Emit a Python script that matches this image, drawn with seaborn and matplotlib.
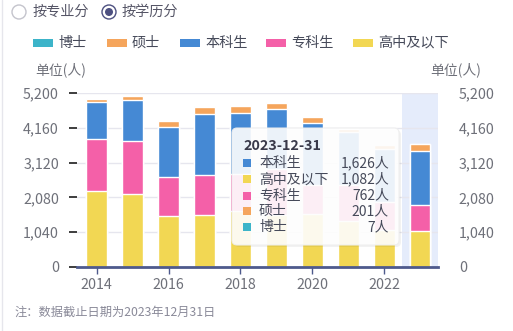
import matplotlib
matplotlib.use("Agg")
import matplotlib.pyplot as plt
import seaborn as sns
import pandas as pd
from matplotlib.patches import Rectangle, FancyBboxPatch, Circle
from matplotlib.transforms import IdentityTransform
from matplotlib.lines import Line2D

# ---- data ----
years = [2014, 2015, 2016, 2017, 2018, 2019, 2020, 2021, 2022, 2023]
doctor = [5, 5, 6, 6, 6, 7, 6, 6, 6, 7]
master = [98, 120, 179, 227, 227, 188, 168, 110, 129, 201]
bachelor = [1095, 1204, 1491, 1802, 1802, 1784, 1843, 1563, 1583, 1626]
college = [1560, 1590, 1173, 1222, 1133, 1378, 876, 1076, 828, 762]
highschool = [2267, 2187, 1530, 1540, 1659, 1560, 1584, 1384, 1115, 1082]

series_names = ["博士", "硕士", "本科生", "专科生", "高中及以下"]
series_colors = ["#3cb4c9", "#f5a55c", "#4589d4", "#f460a8", "#f2d753"]
yticks = [0, 1040, 2080, 3120, 4160, 5200]
xtick_years = [2014, 2016, 2018, 2020, 2022]
tooltip_title = "2023-12-31"
tooltip_rows = [("本科生", "1,626人", "#4589d4"), ("高中及以下", "1,082人", "#f2d753"),
                ("专科生", "762人", "#f460a8"), ("硕士", "201人", "#f5a55c"),
                ("博士", "7人", "#3cb4c9")]

sns.set_theme(style="white")
plt.rcParams['font.family'] = ['Noto Sans CJK SC', 'DejaVu Sans']

W, H = 513, 331
fig = plt.figure(figsize=(W / 100, H / 100), dpi=100)
ax = fig.add_axes([77 / W, 1 - 267 / H, (438 - 77) / W, (267 - 93) / H])

df = pd.DataFrame({"year": [str(y) for y in years], "highschool": highschool,
                   "college": college, "bachelor": bachelor, "master": master,
                   "doctor": doctor})
# stacked via cumulative sums, bottom layer = highschool
stack_cols = ["highschool", "college", "bachelor", "master", "doctor"]
stack_colors = ["#f2d753", "#f460a8", "#4589d4", "#f5a55c", "#3cb4c9"]
cum = df[stack_cols].cumsum(axis=1)
order = [str(y) for y in years]

ax.axvspan(8.5, 9.5, color="#e5ecfb", zorder=0, lw=0)
for col, colr in reversed(list(zip(stack_cols, stack_colors))):
    tmp = pd.DataFrame({"year": df["year"], "v": cum[col]})
    sns.barplot(data=tmp, x="year", y="v", order=order, color=colr,
                width=0.58, errorbar=None, edgecolor="white", linewidth=1,
                saturation=1, ax=ax, zorder=2)

ax.set_xlim(-0.55, 9.5)
ax.set_ylim(0, 5200)
ax.set_yticks(yticks)
ax.set_yticklabels([f"{v:,}" for v in yticks])
ax.yaxis.grid(True, color="#e6e6ee", lw=1, zorder=1)
ax.set_axisbelow(True)
ax.set_xticks([years.index(y) for y in xtick_years])
ax.set_xticklabels([str(y) for y in xtick_years])
ax.set_xlabel("")
ax.set_ylabel("")
for s in ["top", "right", "left"]:
    ax.spines[s].set_visible(False)
ax.spines["bottom"].set_color("#4e5a8c")
ax.spines["bottom"].set_linewidth(2)
ax.tick_params(axis="x", bottom=True, length=5, width=1, color="#4e5a8c",
               labelsize=10.3, labelcolor="#6e7079", pad=3)
ax.tick_params(axis="y", left=False, labelsize=10.3, labelcolor="#6e7079", pad=7)

ax2 = ax.twinx()
ax2.set_ylim(0, 5200)
ax2.set_yticks(yticks)
ax2.set_yticklabels([f"{v:,}" for v in yticks])
for s in ["top", "right", "left", "bottom"]:
    ax2.spines[s].set_visible(False)
ax2.tick_params(axis="y", right=False, labelsize=10.3, labelcolor="#6e7079", pad=9)
ax2.grid(False)

def fx(x):
    return x / W

def fy(y):
    return 1 - y / H

idt = IdentityTransform()

# left border line
fig.add_artist(Line2D([fx(1.5), fx(1.5)], [0, 1], color="#e6e6ec", lw=1))

# radio buttons
fig.add_artist(Circle((19, H - 12), 7, transform=idt, facecolor="white",
                      edgecolor="#c4c4cc", lw=1))
fig.text(fx(33), fy(12), "按专业分", fontsize=10.2, color="#555566", va="center")
fig.add_artist(Circle((109, H - 12), 7, transform=idt, facecolor="white",
                      edgecolor="#4d5080", lw=1))
fig.add_artist(Circle((109, H - 12), 4, transform=idt, facecolor="#4d5080",
                      edgecolor="none"))
fig.text(fx(122), fy(12), "按学历分", fontsize=10.2, color="#555566", va="center")

# legend
leg_x = [33, 107, 180, 266, 353]
for x0, name, colr in zip(leg_x, series_names, series_colors):
    fig.add_artist(Rectangle((x0, H - 46.5), 20, 8, transform=idt,
                             facecolor=colr, edgecolor="none"))
    fig.text(fx(x0 + 25), fy(42.5), name, fontsize=10.2, color="#464a5a",
             va="center")

# unit labels
fig.text(fx(35), fy(70), "单位(人)", fontsize=10, color="#6e7079", va="center")
fig.text(fx(430), fy(70), "单位(人)", fontsize=10, color="#6e7079", va="center")

# footnote
fig.text(fx(14), fy(312), "注：数据截止日期为2023年12月31日", fontsize=8.8,
         color="#8a8a99", va="center")

# tooltip
fig.add_artist(FancyBboxPatch((234, H - 247), 167, 117, transform=idt,
                              boxstyle="round,pad=0,rounding_size=5",
                              facecolor="#000000", alpha=0.05, edgecolor="none"))
fig.add_artist(FancyBboxPatch((232, H - 245), 167, 117, transform=idt,
                              boxstyle="round,pad=0,rounding_size=5",
                              facecolor="white", alpha=0.9,
                              edgecolor="#eeeeee", lw=0.8))
fig.text(fx(243), fy(146.5), tooltip_title, fontsize=10.3, fontweight="bold",
         color="#3a3a4a", va="center")
row_y = [163.3, 179.3, 195.5, 211, 227]
for yy, (lab, val, colr) in zip(row_y, tooltip_rows):
    fig.add_artist(Rectangle((243, H - yy - 4), 8, 8, transform=idt,
                             facecolor=colr, edgecolor="none"))
    fig.text(fx(259), fy(yy), lab, fontsize=10, color="#464a5a", va="center")
    fig.text(fx(389), fy(yy), val, fontsize=10, color="#464a5a", va="center",
             ha="right")

fig.savefig("out.png", dpi=100)
